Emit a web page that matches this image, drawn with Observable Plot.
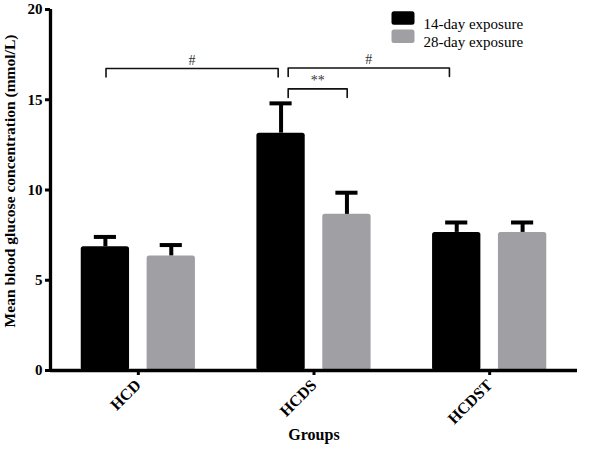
<!DOCTYPE html>
<html>
<head>
<meta charset="utf-8">
<script src="https://cdn.jsdelivr.net/npm/d3@7"></script>
<script src="https://cdn.jsdelivr.net/npm/@observablehq/plot@0.6"></script>
<style>
  html, body { margin: 0; padding: 0; background: #fff; }
</style>
</head>
<body>
<div id="chart"></div>
<script>
const groups = ["HCD", "HCDS", "HCDST"];
const series = ["14-day exposure", "28-day exposure"];
const mean14 = [6.85, 13.15, 7.65];
const sem14 = [0.55, 1.65, 0.55];
const mean28 = [6.35, 8.65, 7.65];
const sem28 = [0.6, 1.2, 0.55];
const yTicks = [0, 5, 10, 15, 20];
// significance brackets (x in group-index units, y in mmol/L)
const bracketX1 = [-0.184, 0.853, 0.853];
const bracketX2 = [0.796, 1.771, 1.189];
const bracketY = [16.73, 16.76, 15.6];
const bracketLabel = ["#", "#", "**"];

const colors = ["#000000", "#a0a0a4"];
const offsets = [[-0.325, -0.05], [0.05, 0.325]];
const capHalf = 0.063;
const legDrop = 0.47;

const data = groups.flatMap((g, i) => [
  {i, s: 0, mean: mean14[i], sem: sem14[i]},
  {i, s: 1, mean: mean28[i], sem: sem28[i]}
]);
const center = d => d.i + (offsets[d.s][0] + offsets[d.s][1]) / 2;

const brackets = bracketX1.map((x1, k) => ({x1, x2: bracketX2[k], y: bracketY[k], label: bracketLabel[k]}));
const bracketPts = brackets.flatMap((b, k) => [
  {k, x: b.x1, y: b.y - legDrop},
  {k, x: b.x1, y: b.y},
  {k, x: b.x2, y: b.y},
  {k, x: b.x2, y: b.y - legDrop}
]);

const roundRect = {
  draw(ctx) {
    const w = 23, h = 13.5, r = 2.5, x = -w / 2, y = -h / 2;
    ctx.moveTo(x + r, y);
    ctx.arcTo(x + w, y, x + w, y + h, r);
    ctx.arcTo(x + w, y + h, x, y + h, r);
    ctx.arcTo(x, y + h, x, y, r);
    ctx.arcTo(x, y, x + w, y, r);
    ctx.closePath();
  }
};

const chart = Plot.plot({
  width: 600,
  height: 449,
  marginLeft: 50,
  marginRight: 23,
  marginTop: 9,
  marginBottom: 79,
  x: {domain: [-0.5, 2.5], axis: null},
  y: {domain: [0, 20], axis: null},
  style: {fontFamily: "'Liberation Serif', 'Times New Roman', serif", background: "#fff", color: "#000"},
  marks: [
    ...series.map((s, k) => Plot.rectY(data.filter(d => d.s === k), {
      x1: d => d.i + offsets[k][0],
      x2: d => d.i + offsets[k][1],
      y1: 0,
      y2: "mean",
      fill: colors[k],
      rx: 2.5
    })),
    Plot.ruleX(data, {x: center, y1: "mean", y2: d => d.mean + d.sem, stroke: "#000", strokeWidth: 4}),
    Plot.ruleY(data, {y: d => d.mean + d.sem, x1: d => center(d) - capHalf, x2: d => center(d) + capHalf, stroke: "#000", strokeWidth: 4}),
    Plot.ruleX([-0.5], {y1: 0, y2: 20, stroke: "#000", strokeWidth: 3.3}),
    Plot.ruleY([0], {x1: -0.5, x2: 2.5, stroke: "#000", strokeWidth: 3.3}),
    Plot.axisY(yTicks, {tickSize: 5, strokeWidth: 3, tickPadding: 3, fontSize: 15, fontWeight: "bold"}),
    Plot.axisX([0, 1, 2], {label: null, tickFormat: i => groups[i], tickRotate: -45, tickSize: 5, strokeWidth: 3, tickPadding: 7, fontSize: 16, fontWeight: "bold"}),
    Plot.line(bracketPts, {x: "x", y: "y", z: "k", stroke: "#111", strokeWidth: 1.6, curve: "linear"}),
    Plot.text(brackets, {x: d => (d.x1 + d.x2) / 2, y: "y", text: "label", dy: -8, fontSize: 14, fill: "#333"}),
    Plot.text(["Mean blood glucose concentration (mmol/L)"], {frameAnchor: "left", textAnchor: "middle", rotate: -90, dx: -40, dy: -9, fontSize: 15.5, fontWeight: "bold"}),
    Plot.text(["Groups"], {frameAnchor: "bottom", dy: 69, fontSize: 16, fontWeight: "bold"}),
    ...series.map((s, k) => Plot.dot([s], {frameAnchor: "top-left", dx: 352.5, dy: 8.4 + k * 18.4, symbol: roundRect, fill: colors[k], stroke: "none"})),
    ...series.map((s, k) => Plot.text([s], {frameAnchor: "top-left", dx: 373, dy: 8.4 + k * 18.4, text: d => d, textAnchor: "start", fontSize: 15}))
  ]
});
document.getElementById("chart").appendChild(chart);
</script>
</body>
</html>
